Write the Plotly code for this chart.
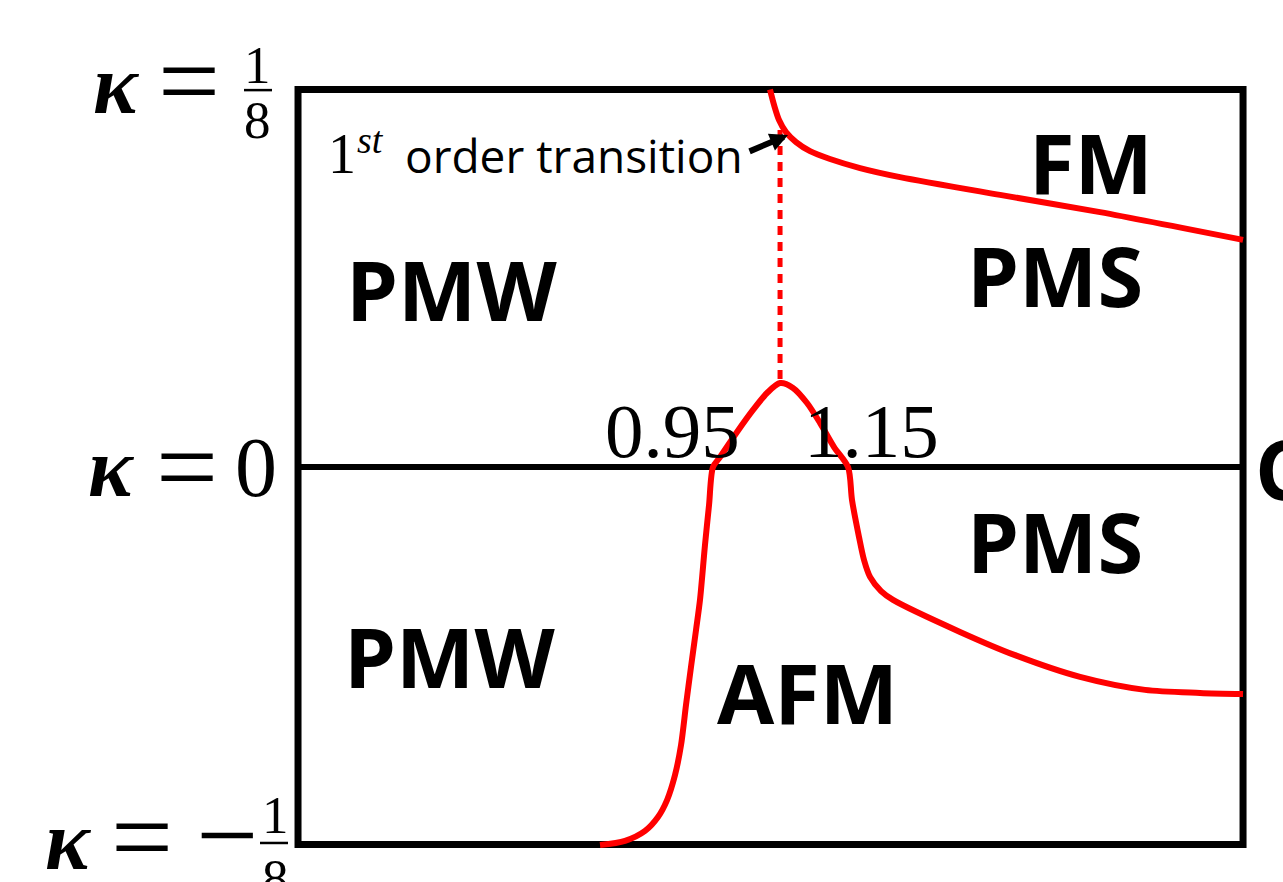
import plotly.graph_objects as go

# Phase boundaries in the (g, kappa) plane
fm_g = [1.0344, 1.0404, 1.0478, 1.0581, 1.0730, 1.0937, 1.1233, 1.1678, 1.2270, 1.3752, 1.5233, 1.7352]
fm_kappa = [0.1250, 0.1199, 0.1149, 0.1109, 0.1076, 0.1046, 0.1020, 0.0990, 0.0960, 0.0901, 0.0844, 0.0752]

afm_g = [0.7826, 0.8196, 0.8493, 0.8685, 0.8819, 0.8937, 0.9026, 0.9100, 0.9174, 0.9248, 0.9307, 0.9381,
         0.9441, 0.9500, 0.9604, 0.9856, 1.0093, 1.0300, 1.0493, 1.0685, 1.0893, 1.1085, 1.1293, 1.1500,
         1.1559, 1.1663, 1.1737, 1.1826, 1.1989, 1.2167, 1.3159, 1.3974, 1.4937, 1.5900, 1.6715, 1.7352]
afm_kappa = [-0.1252, -0.1238, -0.1205, -0.1159, -0.1103, -0.1020, -0.0921, -0.0788, -0.0662, -0.0540, -0.0440, -0.0258,
             -0.0126, 0.0, 0.0033, 0.0116, 0.0189, 0.0245, 0.0278, 0.0262, 0.0212, 0.0146, 0.0066, 0.0,
             -0.0109, -0.0232, -0.0308, -0.0364, -0.0411, -0.0440, -0.0546, -0.0623, -0.0695, -0.0738, -0.0748, -0.0752]

# first-order line joining the dome top to the FM boundary
first_order_g = [1.0493, 1.0493]
first_order_kappa = [0.1116, 0.0288]

g_crit = [0.95, 1.15]
g_crit_labels = ["0.95", "1.15"]

g_min, g_max = 0.3352, 1.7352
kappa_min, kappa_max = -0.125, 0.125

phases = ["PMW", "PMW", "PMS", "PMS", "FM", "AFM"]
phase_g = [0.5619, 0.5589, 1.4560, 1.4560, 1.5100, 1.0893]
phase_kappa = [0.0591, -0.0623, 0.0637, -0.0242, 0.1013, -0.0742]

RED = "#ff0000"
SANS = "Open Sans"
SERIF = "Liberation Serif"

fig = go.Figure()

fig.add_trace(go.Scatter(x=fm_g, y=fm_kappa, mode="lines",
                         line=dict(color=RED, width=6, shape="spline", smoothing=0.8),
                         hoverinfo="skip", showlegend=False))
fig.add_trace(go.Scatter(x=afm_g, y=afm_kappa, mode="lines",
                         line=dict(color=RED, width=6, shape="spline", smoothing=0.8),
                         hoverinfo="skip", showlegend=False))
fig.add_trace(go.Scatter(x=first_order_g, y=first_order_kappa, mode="lines",
                         line=dict(color=RED, width=5, dash="9px,7px"),
                         hoverinfo="skip", showlegend=False))

# frame and kappa = 0 line
fig.add_shape(type="rect", x0=g_min, x1=g_max, y0=kappa_min, y1=kappa_max,
              line=dict(color="black", width=7), layer="below")
fig.add_shape(type="line", x0=g_min, x1=g_max, y0=0, y1=0,
              line=dict(color="black", width=6), layer="below")

anns = []
for name, gx, ky in zip(phases, phase_g, phase_kappa):
    anns.append(dict(x=gx, y=ky, text=name, showarrow=False, xanchor="center", yanchor="middle",
                     font=dict(family=SANS, size=83, color="black", weight="bold")))

crit_label_x = [0.8907, 1.1841]
for gx, lab in zip(crit_label_x, g_crit_labels):
    anns.append(dict(x=gx, y=0.0119, text=lab, showarrow=False, xanchor="center", yanchor="middle",
                     font=dict(family=SERIF, size=77, color="black")))

anns.append(dict(x=1.75, y=0.0, text="C", showarrow=False, xanchor="left", yanchor="middle",
                 font=dict(family=SANS, size=83, color="black", weight="bold")))

# "1st order transition" label with arrow
anns.append(dict(x=0.4004, y=0.1036, text="1", showarrow=False, xanchor="center", yanchor="middle",
                 font=dict(family=SERIF, size=56, color="black")))
anns.append(dict(x=0.4420, y=0.1083, text="<i>st</i>", showarrow=False, xanchor="center", yanchor="middle",
                 font=dict(family=SERIF, size=38, color="black")))
anns.append(dict(x=0.4907, y=0.1033, text="order transition", showarrow=False, xanchor="left", yanchor="middle",
                 font=dict(family=SANS, size=46, color="black")))
anns.append(dict(x=1.0611, y=0.1099, ax=1.0019, ay=0.1043, axref="x", ayref="y", text="",
                 showarrow=True, arrowhead=2, arrowsize=0.6, arrowwidth=6, arrowcolor="black"))

# kappa labels on the left
def kappa_piece(x, y, text, size, italic_bold=False):
    if italic_bold:
        text = "<b><i>" + text + "</i></b>"
    anns.append(dict(x=x, y=y, text=text, showarrow=False, xanchor="center", yanchor="middle",
                     font=dict(family=SERIF, size=size, color="black")))

# kappa = 1/8
kappa_piece(0.0656, 0.1265, "κ", 84, True)
kappa_piece(0.1737, 0.1278, "=", 110)
kappa_piece(0.2759, 0.1331, "1", 53)
kappa_piece(0.2759, 0.1149, "8", 53)
# kappa = 0
kappa_piece(0.0596, 0.0, "κ", 84, True)
kappa_piece(0.1707, 0.0, "=", 110)
kappa_piece(0.2730, 0.0, "0", 84)
# kappa = -1/8
kappa_piece(-0.0041, -0.1238, "κ", 84, True)
kappa_piece(0.1041, -0.1225, "=", 110)
kappa_piece(0.2300, -0.1219, "−", 110)
kappa_piece(0.3011, -0.1152, "1", 53)
kappa_piece(0.3011, -0.1361, "8", 53)

fig.add_shape(type="line", x0=0.2552, x1=0.2967, y0=0.1248, y1=0.1248, line=dict(color="black", width=2.5))
fig.add_shape(type="line", x0=0.2789, x1=0.3204, y0=-0.1245, y1=-0.1245, line=dict(color="black", width=2.5))

fig.update_layout(
    width=1283, height=882,
    margin=dict(l=0, r=0, t=0, b=0),
    paper_bgcolor="white", plot_bgcolor="white",
    xaxis=dict(range=[-0.1063, 1.7944], visible=False, fixedrange=True),
    yaxis=dict(range=[-0.13742, 0.15464], visible=False, fixedrange=True),
    annotations=anns,
    showlegend=False,
)

fig.write_html("out.html")
